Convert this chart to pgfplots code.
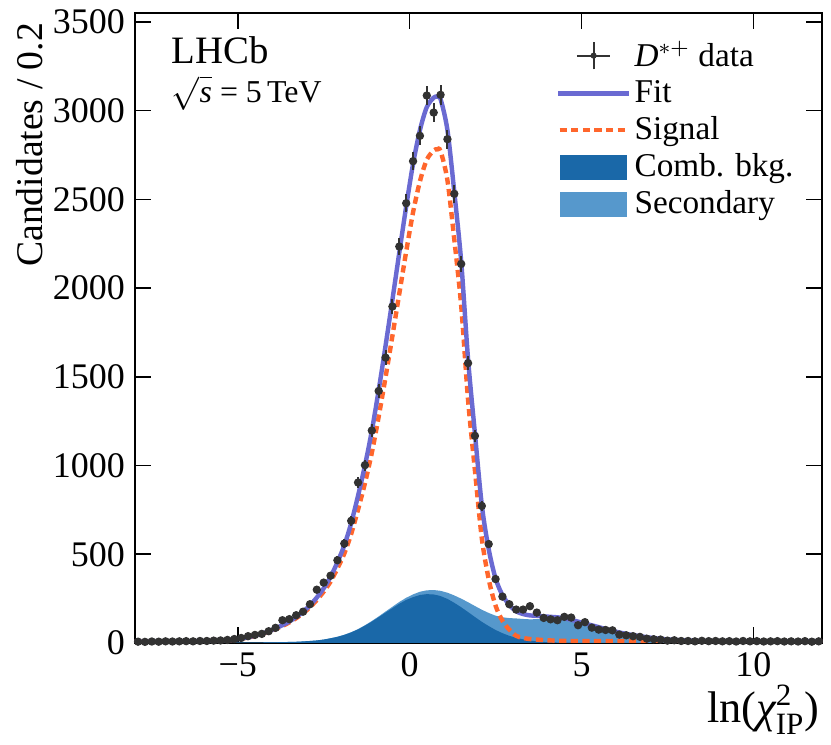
\documentclass[border=0pt]{standalone}
\usepackage{amsmath}
\usepackage{fontspec}
\setmainfont{Liberation Serif}
\usepackage{pgfplots}
\pgfplotsset{compat=1.18}
\usepackage{pgfplotstable}

\definecolor{fitc}{RGB}{106,106,210}
\definecolor{sigc}{RGB}{255,102,44}
\definecolor{combc}{RGB}{26,104,168}
\definecolor{secc}{RGB}{86,152,204}
\definecolor{datac}{RGB}{50,50,50}

\pgfplotstableread{
x y e
-7.9 7 2.6
-7.7 6 2.4
-7.5 8 2.8
-7.3 7 2.6
-7.1 9 3
-6.9 8 2.8
-6.7 9 3
-6.5 10 3.2
-6.3 9 3
-6.1 11 3.3
-5.9 11 3.3
-5.7 13 3.6
-5.5 14 3.7
-5.3 17 4.1
-5.1 22 4.7
-4.9 28 5.3
-4.7 38 6.2
-4.5 45 6.7
-4.3 51 7.1
-4.1 66 8.1
-3.9 85 9.2
-3.7 128 11.3
-3.5 134 11.6
-3.3 156 12.5
-3.1 176 13.3
-2.9 218 14.8
-2.7 300 17.3
-2.5 340 18.4
-2.3 379 19.5
-2.1 466 21.6
-1.9 560 23.7
-1.7 688 26.2
-1.5 904 30.1
-1.3 1002 31.7
-1.1 1197 34.6
-0.9 1420 37.7
-0.7 1608 40.1
-0.5 1896 43.5
-0.3 2234 47.3
-0.1 2478 49.8
0.1 2715 52.1
0.3 2858 53.5
0.5 3085 55.5
0.7 2989 54.7
0.9 3089 55.6
1.1 2839 53.3
1.3 2531 50.3
1.5 2136 46.2
1.7 1577 39.7
1.9 1167 34.2
2.1 772 27.8
2.3 557 23.6
2.5 360 19
2.7 261 16.2
2.9 218 14.8
3.1 188 13.7
3.3 188 13.7
3.5 207 14.4
3.7 171 13.1
3.9 141 11.9
4.1 133 11.5
4.3 128 11.3
4.5 147 12.1
4.7 143 12
4.9 100 10
5.1 117 10.8
5.3 86 9.3
5.5 75 8.7
5.7 73 8.5
5.9 71 8.4
6.1 47 6.9
6.3 43 6.6
6.5 38 6.2
6.7 34 5.8
6.9 24 4.9
7.1 21 4.6
7.3 19 4.4
7.5 13 3.6
7.7 15 3.9
7.9 11 3.3
8.1 11 3.3
8.3 9 3
8.5 12 3.5
8.7 10 3.2
8.9 11 3.3
9.1 9 3
9.3 10 3.2
9.5 8 2.8
9.7 11 3.3
9.9 9 3
10.1 10 3.2
10.3 8 2.8
10.5 9 3
10.7 10 3.2
10.9 8 2.8
11.1 9 3
11.3 8 2.8
11.5 10 3.2
11.7 7 2.6
11.9 9 3
}\datatab

\pgfplotstableread{
x C T Sig F
-8.0 0 0 7 7
-7.5 0 0 7.5 7.5
-7.1 0 0 8 8
-6.7 0 0 8.5 8.5
-6.3 0.3 0.3 9.2 9.5
-5.9 0.4 0.4 10.6 11
-5.5 0.7 0.7 12.8 13.5
-5.3 0.9 0.9 14.6 15.5
-5.1 1 1 18 19
-4.9 1.2 1.2 23.8 25
-4.7 1.5 1.5 30.5 32
-4.5 1.8 1.8 39.2 41
-4.3 2.2 2.2 49.8 52
-4.1 3 3 63 66
-3.9 3.5 3.5 78.5 82
-3.7 4.5 4.5 95.5 100
-3.5 5.5 5.5 115.5 121
-3.3 6.5 6.5 139.5 146
-3.1 8.5 8.5 167.5 176
-2.9 11 11 201 212
-2.7 14 14 242 256
-2.5 19 19 289 308
-2.3 26 26.5 345.5 372
-2.1 34 35 420 455
-1.9 45 46.2 503.8 550
-1.7 59 60.7 614.3 675
-1.5 76 78.2 751.8 830
-1.3 97 99.7 900.3 1000
-1.1 120 123.5 1071.5 1195
-0.9 145 149.5 1275.5 1425
-0.7 171 177 1498 1675
-0.5 196 204 1731 1935
-0.3 221 231 1969 2200
-0.1 242 254.5 2205.5 2460
0.1 258 273.5 2426.5 2700
0.3 270 288.5 2601.5 2890
0.5 275 296.5 2723.5 3020
0.7 273 298 2775 3073
0.8 269 296 2782 3078
0.9 264 293.5 2771.5 3065
1.1 248 283 2607 2890
1.3 226 267.5 2272.5 2540
1.5 201 249.5 1900.5 2150
1.7 174 229.5 1370.5 1600
1.9 146 208 972 1180
2.1 119 187 590 777
2.3 95 169 360 529
2.5 73 153.5 210 363.5
2.7 55 144.5 125 269.5
2.9 40 140 75 215
3.1 29 138 40 178
3.3 20 135 28 163
3.5 13 133 22 155
3.7 9 134 19 153
3.9 5.6 133.6 16 149.6
4.1 3.5 133 14 147
4.3 2.2 131.7 12.5 144.2
4.5 1.4 127.4 11.5 138.9
4.7 1 119 11 130
4.9 0.5 109.5 10.5 120
5.1 0.3 99.3 10 109.3
5.3 0.2 89.2 10 99.2
5.5 0.1 79.1 10 89.1
5.7 0 68 10 78
5.9 0 58 10 68
6.1 0 49 10 59
6.3 0 41 10 51
6.5 0 34 10 44
6.7 0 28 10 38
6.9 0 22.5 9.8 32.3
7.1 0 17.5 9.7 27.2
7.3 0 13.5 9.6 23.1
7.5 0 10 9.5 19.5
7.7 0 7.5 9.4 16.9
7.9 0 5.5 9.3 14.8
8.1 0 4 9.2 13.2
8.3 0 3 9.1 12.1
8.5 0 2.2 9 11.2
8.7 0 1.6 9 10.6
8.9 0 1.2 9 10.2
9.3 0 0.7 8.9 9.6
9.9 0 0.3 8.8 9.1
10.9 0 0 8.6 8.6
12.0 0 0 8.5 8.5
}\modeltab

\begin{document}
\begin{tikzpicture}
\begin{axis}[
  scale only axis, width=248.2pt, height=227.4pt,
  xmin=-8, xmax=12, ymin=0, ymax=3550,
  xtick={-5,0,5,10},
  xticklabels={−5,0,5,10},
  ytick={0,500,1000,1500,2000,2500,3000,3500},
  scaled y ticks=false,
  /pgf/number format/1000 sep={},
  /pgf/number format/assume math mode=true,
  tick align=inside, major tick length=5.8pt, minor tick num=0,
  xtick pos=both, ytick pos=both,
  axis line style={line width=0.8pt},
  every tick/.style={black, line width=0.6pt},
  tick label style={font=\fontsize{13}{13}\selectfont},
  xlabel={ln($\textit{χ}^{\text{2}}_{\text{IP}}$)},
  ylabel={Candidates / 0.2},
  xlabel style={at={(rel axis cs:0.997,-0.066)}, anchor=north east, inner sep=0pt,
    font=\fontsize{16}{16}\selectfont},
  ylabel style={at={(rel axis cs:-0.132,0.985)}, anchor=south east, inner sep=0pt,
    font=\fontsize{13.6}{13.6}\selectfont},
  legend style={at={(rel axis cs:0.612,0.962)}, anchor=north west, draw=none, fill=none,
    font=\fontsize{12}{12}\selectfont, inner sep=0pt, row sep=1.2pt,
    nodes={inner sep=1.2pt}},
  legend cell align=left,
]
\addlegendimage{legend image code/.code={
  \draw[datac, line width=0.7pt] (6.8pt,0pt) -- (18.8pt,0pt);
  \draw[datac, line width=0.7pt] (12.8pt,-5pt) -- (12.8pt,5pt);
  \fill[datac] (12.8pt,0pt) circle (0.9pt);}}
\addlegendentry{\textit{D}$^{*+}$ data}
\addlegendimage{legend image code/.code={
  \draw[fitc, line width=1.6pt] (0pt,0pt) -- (25.6pt,0pt);}}
\addlegendentry{Fit}
\addlegendimage{legend image code/.code={
  \draw[sigc, line width=1.6pt, dash pattern=on 2.6pt off 1.6pt] (0.5pt,0pt) -- (25.6pt,0pt);}}
\addlegendentry{Signal}
\addlegendimage{legend image code/.code={
  \fill[combc] (0.7pt,-4.2pt) rectangle (24.8pt,4.2pt);}}
\addlegendentry{Comb. bkg.}
\addlegendimage{legend image code/.code={
  \fill[secc] (0.7pt,-4.2pt) rectangle (24.8pt,4.2pt);}}
\addlegendentry{Secondary}

\addplot[fill=secc, draw=none, forget plot] table[x=x, y=T] {\modeltab} \closedcycle;
\addplot[fill=combc, draw=none, forget plot] table[x=x, y=C] {\modeltab} \closedcycle;
\addplot[sigc, line width=1.6pt, dash pattern=on 2.6pt off 1.6pt, smooth, forget plot] table[x=x, y=Sig] {\modeltab};
\addplot[fitc, line width=1.6pt, smooth, forget plot] table[x=x, y=F] {\modeltab};
\addplot[only marks, mark=*, mark size=1.3pt, color=datac, forget plot,
  error bars/.cd, y dir=both, y explicit, x dir=both, x fixed=0.1,
  error bar style={line width=0.7pt, datac}, error mark=none]
  table[x=x, y=y, y error=e] {\datatab};

\node[anchor=base west, font=\fontsize{14}{14}\selectfont, inner sep=0pt] at (axis cs:-6.93,3265) {LHCb};
\node[anchor=base west, font=\fontsize{11.5}{11.5}\selectfont, inner sep=0pt] at (axis cs:-6.93,3045) {$\sqrt{\textit{s}}$ = 5\,TeV};
\end{axis}
\pgfresetboundingbox
\path[use as bounding box] ([shift={(-48.6pt,-36.8pt)}]current axis.south west) rectangle ([shift={(3.2pt,4.7pt)}]current axis.north east);
\end{tikzpicture}
\end{document}
